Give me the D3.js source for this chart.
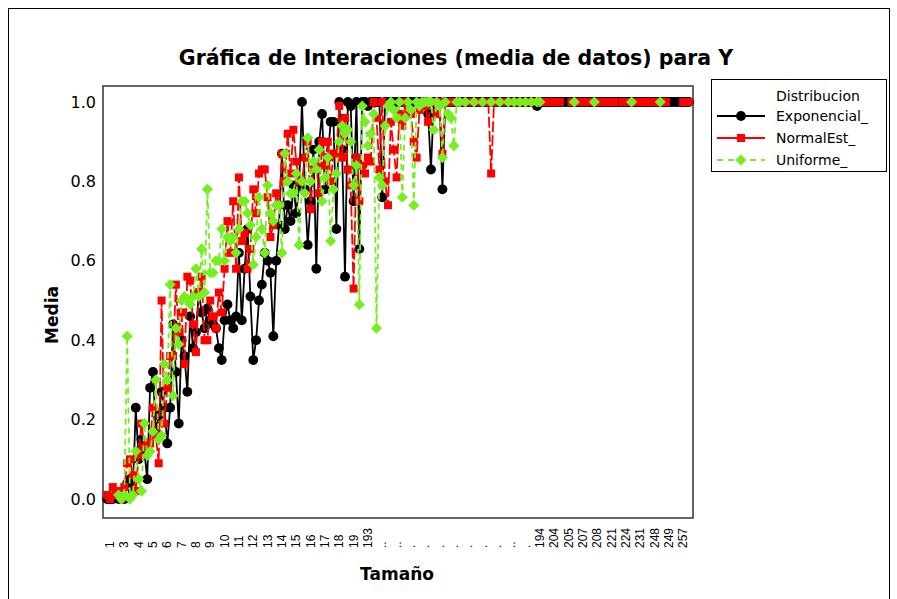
<!DOCTYPE html>
<html>
<head>
<meta charset="utf-8">
<script src="https://cdn.jsdelivr.net/npm/d3@7"></script>
<style>
  body { margin: 0; background: #fff; }
  svg { display: block; }
</style>
</head>
<body>
<svg id="chart" width="897" height="599"></svg>
<script>
// Mean response per Tamaño level, one array per distribution (null = no data at that level)
const exponencial = [
  0.00,0.00,0.00,0.01,0.00,0.01,0.00,0.04,0.05,0.02,
  0.23,0.10,0.15,0.12,0.05,0.28,0.32,0.17,0.21,0.27,
  0.23,0.14,0.23,0.44,0.32,0.19,0.40,0.36,0.27,0.46,
  0.38,0.42,0.52,0.47,0.43,0.48,0.45,0.44,0.43,0.38,
  0.35,0.45,0.49,0.45,0.43,0.46,0.62,0.45,0.58,0.68,
  0.51,0.35,0.40,0.50,0.54,0.62,0.60,0.57,0.41,0.60,
  0.69,0.87,0.68,0.74,0.70,0.79,0.72,0.79,1.00,0.78,
  0.64,0.75,0.88,0.58,0.90,0.97,0.78,0.86,0.95,0.95,
  0.68,1.00,0.88,0.56,1.00,0.99,0.75,1.00,0.63,1.00,
  1.00,0.99,1.00,1.00,1.00,1.00,0.76,1.00,1.00,1.00,
  1.00,1.00,1.00,1.00,1.00,1.00,1.00,1.00,1.00,1.00,
  1.00,1.00,0.97,0.83,1.00,1.00,1.00,0.78,1.00,1.00,
  1.00,1.00,1.00,1.00,1.00,1.00,1.00,1.00,1.00,1.00,
  1.00,1.00,1.00,1.00,1.00,1.00,1.00,1.00,1.00,1.00,
  1.00,1.00,1.00,1.00,1.00,1.00,1.00,1.00,1.00,1.00,
  0.99,1.00,1.00,1.00,1.00,1.00,1.00,1.00,1.00,1.00,
  1.00,1.00,1.00,1.00,1.00,1.00,1.00,1.00,1.00,1.00,
  1.00,1.00,1.00,1.00,1.00,1.00,1.00,1.00,1.00,1.00,
  1.00,1.00,1.00,1.00,1.00,1.00,1.00,1.00,1.00,1.00,
  1.00,1.00,1.00,1.00,1.00,1.00,1.00,1.00,1.00,1.00,
  1.00,1.00,1.00,1.00
];

const normalEst = [
  0.01,0.00,0.03,0.01,0.02,0.00,0.03,0.09,0.10,0.06,
  0.02,0.11,0.19,0.13,0.14,0.14,0.23,0.16,0.09,0.50,
  0.19,0.28,0.36,0.36,0.54,0.42,0.47,0.34,0.56,0.55,
  0.44,0.37,0.52,0.56,0.40,0.40,0.50,0.46,0.43,0.52,
  0.47,0.58,0.70,0.62,0.75,0.58,0.81,0.65,0.67,0.58,
  0.63,0.78,0.72,0.82,0.83,0.83,0.76,0.66,0.69,0.77,
  0.74,0.87,0.80,0.92,0.82,0.93,0.85,0.80,0.80,0.86,
  0.90,0.73,0.83,0.84,0.77,0.90,0.84,0.90,0.80,0.87,
  0.87,0.99,0.86,0.96,0.83,0.79,0.53,0.86,0.75,0.84,
  0.82,0.86,0.85,1.00,0.96,0.83,1.00,0.80,0.74,0.95,
  0.88,0.81,0.97,0.94,1.00,0.98,0.97,0.90,0.86,0.98,
  1.00,0.99,0.95,1.00,1.00,0.97,1.00,0.87,1.00,1.00,
  1.00,1.00,1.00,1.00,1.00,1.00,1.00,1.00,1.00,1.00,
  1.00,1.00,1.00,1.00,0.82,1.00,1.00,1.00,1.00,1.00,
  1.00,1.00,1.00,1.00,1.00,1.00,1.00,1.00,1.00,1.00,
  1.00,1.00,1.00,1.00,1.00,1.00,1.00,1.00,1.00,null,
  null,null,1.00,1.00,1.00,1.00,1.00,1.00,1.00,1.00,
  1.00,1.00,1.00,1.00,1.00,1.00,1.00,1.00,null,null,
  1.00,1.00,1.00,1.00,1.00,1.00,1.00,1.00,1.00,1.00,
  1.00,1.00,1.00,1.00,1.00,1.00,null,null,null,null,
  null,1.00,1.00,1.00
];

const uniforme = [
  null,null,null,null,0.01,0.00,0.01,0.41,0.00,0.01,
  0.12,0.05,0.02,0.19,0.11,0.12,0.17,0.30,0.15,0.16,
  0.34,0.30,0.54,0.26,0.43,0.39,0.50,0.51,0.50,0.49,
  0.51,0.58,0.51,0.63,0.52,0.78,0.57,0.57,0.60,0.60,
  0.68,0.60,0.66,0.65,0.66,0.62,0.68,0.75,0.75,0.72,
  0.69,0.59,0.66,0.76,0.68,0.62,0.79,0.72,0.70,0.74,
  0.74,0.62,0.87,0.80,0.77,0.77,0.82,0.64,0.80,0.77,
  0.91,0.80,0.85,0.83,0.88,0.75,0.81,0.86,0.65,0.78,
  0.82,0.90,0.94,0.92,0.93,0.90,0.79,0.84,0.49,0.99,
  0.95,0.89,0.92,0.97,0.43,0.81,0.79,0.94,0.99,1.00,
  0.98,0.96,1.00,0.76,0.96,1.00,0.98,0.74,1.00,0.99,
  1.00,1.00,1.00,1.00,0.93,1.00,0.99,0.86,1.00,0.97,
  0.96,0.89,1.00,1.00,null,1.00,null,null,1.00,null,
  null,1.00,null,null,1.00,null,null,1.00,null,null,
  1.00,null,1.00,null,1.00,null,1.00,null,1.00,null,
  1.00,1.00,null,null,null,null,null,null,null,null,
  null,null,null,1.00,null,null,null,null,null,null,
  1.00,null,null,null,null,null,null,null,null,null,
  null,null,null,1.00,null,null,null,null,null,null,
  null,null,null,1.00,null,null,null,null,null,null,
  null,null,null,null
];

// Tamaño labels printed along the axis (one every fifth level)
const tickLabels = [
  "1","3","4","5","6","7","8","9","10","11","12","13","14","15","16","17","18","19","193",
  "..","..",".",".",".",".",".",".",".","..",".",
  "194","204","205","207","208","221","224","231","248","249","257"
];
const tickEvery = 5;
const tickOffset = 1;

const yTicks = [0.0, 0.2, 0.4, 0.6, 0.8, 1.0];

const seriesNames = ["Exponencial_", "NormalEst_", "Uniforme_"];
const seriesColors = ["#000000", "#ff0000", "#77ee22"];
const seriesDash = [null, "11,3", "6,4"];
const legendDash = [null, null, "6,5"];

const titleText = "Gráfica de Interaciones (media de datos) para Y";
const legendTitle = "Distribucion";
const xTitle = "Tamaño";
const yTitle = "Media";

// ---------------------------------------------------------------
const svg = d3.select("#chart");
const plot = { left: 103, right: 693, top: 86, bottom: 518 };

const levels = exponencial.map((_, i) => i);
const x = d3.scalePoint().domain(levels).range([plot.left, plot.right]).padding(1.43);
const y = d3.scaleLinear().domain([0, 1]).range([499, 102]);

// outer graph frame
svg.append("rect")
  .attr("x", 8.5).attr("y", 8.5).attr("width", 881).attr("height", 640)
  .attr("fill", "none").attr("stroke", "#000").attr("stroke-width", 1);

// title
svg.append("text")
  .attr("x", 456).attr("y", 65)
  .attr("text-anchor", "middle")
  .attr("font-family", "DejaVu Sans")
  .attr("font-weight", "bold")
  .attr("font-size", 20.5)
  .text(titleText);

// data region frame
svg.append("rect")
  .attr("x", plot.left).attr("y", plot.top)
  .attr("width", plot.right - plot.left).attr("height", plot.bottom - plot.top)
  .attr("fill", "none").attr("stroke", "#333").attr("stroke-width", 1.5);

// y axis labels
const yAxis = d3.axisLeft(y).tickValues(yTicks).tickFormat(d3.format(".1f")).tickSize(0).tickPadding(7);
const gy = svg.append("g").attr("transform", `translate(${plot.left},0)`).call(yAxis);
gy.select(".domain").remove();
gy.selectAll("text")
  .attr("font-family", "DejaVu Sans")
  .attr("font-size", 16)
  .attr("fill", "#000");

// x axis labels (rotated, bottom aligned)
const xTickData = tickLabels.map((t, k) => ({ t, level: tickOffset + k * tickEvery }));
svg.append("g").selectAll("text")
  .data(xTickData)
  .join("text")
  .attr("transform", d => `translate(${x(d.level)},548) rotate(-90)`)
  .attr("dy", "0.35em")
  .attr("text-anchor", "start")
  .attr("font-family", "Liberation Sans")
  .attr("font-size", 12)
  .attr("fill", "#000")
  .text(d => d.t);

// axis titles
svg.append("text")
  .attr("transform", "translate(52,315) rotate(-90)")
  .attr("dy", "0.35em")
  .attr("text-anchor", "middle")
  .attr("font-family", "DejaVu Sans")
  .attr("font-weight", "bold")
  .attr("font-size", 17)
  .text(yTitle);

svg.append("text")
  .attr("x", 397).attr("y", 580)
  .attr("text-anchor", "middle")
  .attr("font-family", "DejaVu Sans")
  .attr("font-weight", "bold")
  .attr("font-size", 17)
  .text(xTitle);

// marker shapes
const diamond = {
  draw(ctx, size) {
    const r = Math.sqrt(size / 2);
    ctx.moveTo(0, -r); ctx.lineTo(r, 0); ctx.lineTo(0, r); ctx.lineTo(-r, 0); ctx.closePath();
  }
};
const symbolTypes = [d3.symbolCircle, d3.symbolSquare, diamond];
const symbolSizes = [76, 64, 62];

const series = [exponencial, normalEst, uniforme].map((vals, s) => ({
  name: seriesNames[s],
  color: seriesColors[s],
  dash: seriesDash[s],
  legendDash: legendDash[s],
  symbol: d3.symbol().type(symbolTypes[s]).size(symbolSizes[s]),
  points: vals.map((v, i) => ({ level: levels[i], value: v }))
}));

const line = d3.line()
  .defined(d => d.value !== null)
  .x(d => x(d.level))
  .y(d => y(d.value));

const gSeries = svg.append("g");
series.forEach(s => {
  const g = gSeries.append("g");
  g.append("path")
    .attr("d", line(s.points))
    .attr("fill", "none")
    .attr("stroke", s.color)
    .attr("stroke-width", 1.8)
    .attr("stroke-dasharray", s.dash);
  g.selectAll("path.pt")
    .data(s.points.filter(d => d.value !== null))
    .join("path")
    .attr("class", "pt")
    .attr("transform", d => `translate(${x(d.level)},${y(d.value)})`)
    .attr("d", s.symbol())
    .attr("fill", s.color);
});

// legend
const lg = svg.append("g");
lg.append("rect")
  .attr("x", 711.5).attr("y", 79.5).attr("width", 175).attr("height", 92)
  .attr("fill", "#fff").attr("stroke", "#000").attr("stroke-width", 1);
lg.append("text")
  .attr("x", 776).attr("y", 101)
  .attr("font-family", "DejaVu Sans").attr("font-size", 14)
  .text(legendTitle);
series.forEach((s, k) => {
  const cy = 116 + k * 22;
  lg.append("line")
    .attr("x1", 717).attr("x2", 765).attr("y1", cy).attr("y2", cy)
    .attr("stroke", s.color).attr("stroke-width", 1.8)
    .attr("stroke-dasharray", s.legendDash);
  lg.append("path")
    .attr("transform", `translate(741,${cy})`)
    .attr("d", s.symbol())
    .attr("fill", s.color);
  lg.append("text")
    .attr("x", 776).attr("y", cy + 5)
    .attr("font-family", "DejaVu Sans").attr("font-size", 14)
    .text(s.name);
});
</script>
</body>
</html>
